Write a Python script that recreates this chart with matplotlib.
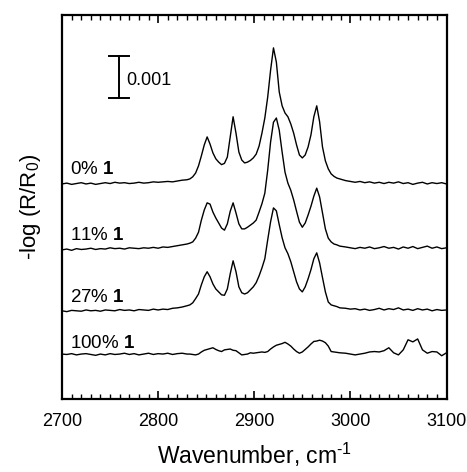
import matplotlib
matplotlib.use("Agg")
import matplotlib.pyplot as plt
import numpy as np

plt.rcParams['font.family'] = ['Liberation Sans', 'DejaVu Sans']
plt.rcParams['mathtext.fontset'] = 'custom'
plt.rcParams['mathtext.rm'] = 'Liberation Sans'
plt.rcParams['mathtext.it'] = 'Liberation Sans'
plt.rcParams['mathtext.bf'] = 'Liberation Sans:bold'

# ---- data (absorbance in units of 0.001) ----
wavenumber = [2700, 2705, 2710, 2715, 2720, 2725, 2730, 2735, 2740, 2745, 2750, 2755, 2760,
              2765, 2770, 2775, 2780, 2785, 2790, 2795, 2800, 2805, 2810, 2815, 2820, 2825, 2830,
              2833, 2836, 2839, 2842, 2845, 2848, 2851, 2854, 2857, 2860, 2863, 2866, 2869,
              2872, 2875, 2878, 2881, 2884, 2887, 2890, 2893, 2896, 2899, 2902, 2905, 2908,
              2911, 2914, 2917, 2920, 2923, 2926, 2929, 2932, 2935, 2938, 2941, 2944, 2947,
              2950, 2953, 2956, 2959, 2962, 2965, 2968, 2971, 2974, 2977, 2980, 2983, 2986, 2989,
              2995, 3000, 3005, 3010, 3015, 3020, 3025, 3030, 3035, 3040, 3045, 3050, 3055,
              3060, 3065, 3070, 3075, 3080, 3085, 3090, 3095, 3100]

spec_0 = [0.00, 0.02, -0.01, 0.01, 0.03, 0.00, 0.02, -0.01, 0.01, 0.03, 0.01, 0.04, 0.02,
          0.03, 0.01, 0.02, 0.04, 0.02, 0.03, 0.05, 0.04, 0.05, 0.06, 0.05, 0.07, 0.09, 0.10,
          0.12, 0.17, 0.26, 0.43, 0.67, 0.93, 1.12, 0.95, 0.74, 0.60,
          0.52, 0.46, 0.49, 0.64, 1.12, 1.60, 1.21, 0.76, 0.57, 0.50,
          0.52, 0.56, 0.62, 0.71, 0.90, 1.21, 1.57, 2.07, 2.71, 3.24,
          2.90, 2.19, 1.86, 1.69, 1.60, 1.43, 1.21, 0.93, 0.69, 0.62,
          0.69, 0.88, 1.17, 1.60, 1.86, 1.48, 0.88, 0.55, 0.36, 0.24,
          0.18, 0.14, 0.12,
          0.08, 0.06, 0.04, 0.06, 0.03, 0.05, 0.02, 0.04, 0.01, 0.04, 0.02, 0.05, 0.01,
          0.03, -0.01, 0.02, 0.04, 0.00, 0.03, 0.01, 0.03, 0.00]

spec_11 = [-0.02, 0.00, -0.03, 0.01, -0.01, 0.00, 0.02, -0.01, 0.01, 0.00, 0.03, 0.01, 0.02,
           0.00, 0.03, 0.02, 0.01, 0.03, 0.02, 0.04, 0.02, 0.05, 0.04, 0.06, 0.08, 0.10, 0.12,
           0.14, 0.17, 0.26, 0.40, 0.69, 0.93, 1.10, 1.07, 0.88, 0.74,
           0.62, 0.50, 0.45, 0.60, 0.90, 1.10, 0.86, 0.60, 0.48, 0.48,
           0.52, 0.57, 0.62, 0.69, 0.88, 1.08, 1.33, 1.88, 2.55, 3.02,
           3.12, 2.83, 2.31, 1.83, 1.57, 1.40, 1.17, 0.90, 0.64, 0.52,
           0.62, 0.81, 1.02, 1.26, 1.45, 1.24, 0.86, 0.48, 0.26, 0.17,
           0.12, 0.10, 0.07,
           0.05, 0.03, 0.01, 0.04, 0.02, 0.05, 0.01, 0.03, 0.06, 0.02, 0.04, 0.00, 0.05,
           0.02, 0.06, 0.01, 0.04, 0.07, 0.02, 0.05, 0.01, 0.03]

spec_27 = [0.00, -0.02, 0.01, 0.00, -0.01, 0.02, 0.00, 0.01, -0.01, 0.02, 0.01, 0.00, 0.03,
           0.01, 0.02, 0.00, 0.03, 0.02, 0.01, 0.04, 0.02, 0.04, 0.03, 0.06, 0.07, 0.09, 0.12,
           0.14, 0.19, 0.29, 0.40, 0.62, 0.81, 0.93, 0.81, 0.64, 0.52,
           0.45, 0.38, 0.37, 0.52, 0.88, 1.19, 0.93, 0.57, 0.43, 0.40,
           0.43, 0.50, 0.57, 0.67, 0.83, 1.02, 1.24, 1.69, 2.12, 2.45,
           2.38, 2.05, 1.74, 1.50, 1.36, 1.17, 0.93, 0.69, 0.52, 0.45,
           0.57, 0.76, 0.98, 1.24, 1.38, 1.14, 0.79, 0.45, 0.21, 0.14,
           0.12, 0.10, 0.07,
           0.06, 0.04, 0.05, 0.02, 0.04, 0.01, 0.03, 0.06, 0.02, 0.05, 0.03, 0.07, 0.02,
           0.04, 0.01, 0.05, 0.02, 0.04, 0.00, 0.03, 0.01, 0.02]

spec_100 = [0.02, 0.01, 0.03, 0.00, 0.02, 0.03, 0.01, -0.01, 0.02, 0.00, 0.03, 0.01, 0.02,
            0.04, 0.01, 0.03, 0.00, 0.02, 0.04, 0.01, 0.03, 0.02, 0.04, 0.01, 0.03, 0.04, 0.02,
            0.02, 0.01, 0.00, 0.02, 0.07, 0.11, 0.13, 0.15, 0.17, 0.13,
            0.10, 0.08, 0.12, 0.13, 0.14, 0.11, 0.10, 0.05, 0.00, 0.01,
            0.02, 0.05, 0.04, 0.05, 0.06, 0.07, 0.06, 0.08, 0.14, 0.19,
            0.23, 0.25, 0.27, 0.30, 0.26, 0.21, 0.14, 0.08, 0.04, 0.07,
            0.13, 0.19, 0.26, 0.32, 0.33, 0.35, 0.33, 0.29, 0.21, 0.08,
            0.07, 0.06, 0.05,
            0.04, 0.02, 0.00, 0.02, 0.04, 0.07, 0.08, 0.07, 0.10, 0.17, 0.05, 0.00, 0.12,
            0.36, 0.31, 0.38, 0.12, 0.04, 0.08, 0.07, -0.02, 0.05]

spectra = [spec_0, spec_11, spec_27, spec_100]
offsets = [5.12, 3.57, 2.10, 1.05]
label_pct = ["0%", "11%", "27%", "100%"]
label_y = [5.36, 3.79, 2.31, 1.21]
scale_bar = 1.0  # 0.001 absorbance units

# ---- figure ----
fig = plt.figure(figsize=(4.67, 4.72), dpi=100)
ax = fig.add_axes([62 / 467, 1 - 399 / 472, (446.5 - 62) / 467, 384 / 472])

x = np.array(wavenumber)
for spec, off in zip(spectra, offsets):
    ax.plot(x, np.array(spec) + off, color='black', lw=1.0)

for pct, ly in zip(label_pct, label_y):
    ax.text(2708, ly, pct + r" $\mathbf{1}$", fontsize=13.5, ha='left', va='baseline')

# scale bar
sb_x, sb_y0 = 2759, 7.17
ax.plot([sb_x, sb_x], [sb_y0, sb_y0 + scale_bar], color='black', lw=1.4)
ax.plot([sb_x - 10.5, sb_x + 10.5], [sb_y0, sb_y0], color='black', lw=1.4)
ax.plot([sb_x - 10.5, sb_x + 10.5], [sb_y0 + scale_bar, sb_y0 + scale_bar], color='black', lw=1.4)
ax.text(2767, 7.48, "0.001", fontsize=13, ha='left', va='baseline')

ax.set_xlim(2700, 3100)
ax.set_ylim(0, 384 / 42)
ax.set_xticks([2700, 2800, 2900, 3000, 3100])
ax.set_xticks(np.arange(2700, 3101, 10), minor=True)
ax.set_yticks([])
ax.tick_params(axis='x', which='both', direction='in', top=True, bottom=True,
               labelsize=13, pad=10)
ax.tick_params(axis='x', which='major', length=6, width=1.2)
ax.tick_params(axis='x', which='minor', length=3.5, width=1.0)
for s in ax.spines.values():
    s.set_linewidth(1.6)

ax.set_xlabel(r"Wavenumber, cm$^{\text{-1}}$", fontsize=16.5, labelpad=8)
ax.set_ylabel(r"-log (R/R$_{\mathregular{0}}$)", fontsize=16, labelpad=14)

fig.savefig("out.png", dpi=100)
